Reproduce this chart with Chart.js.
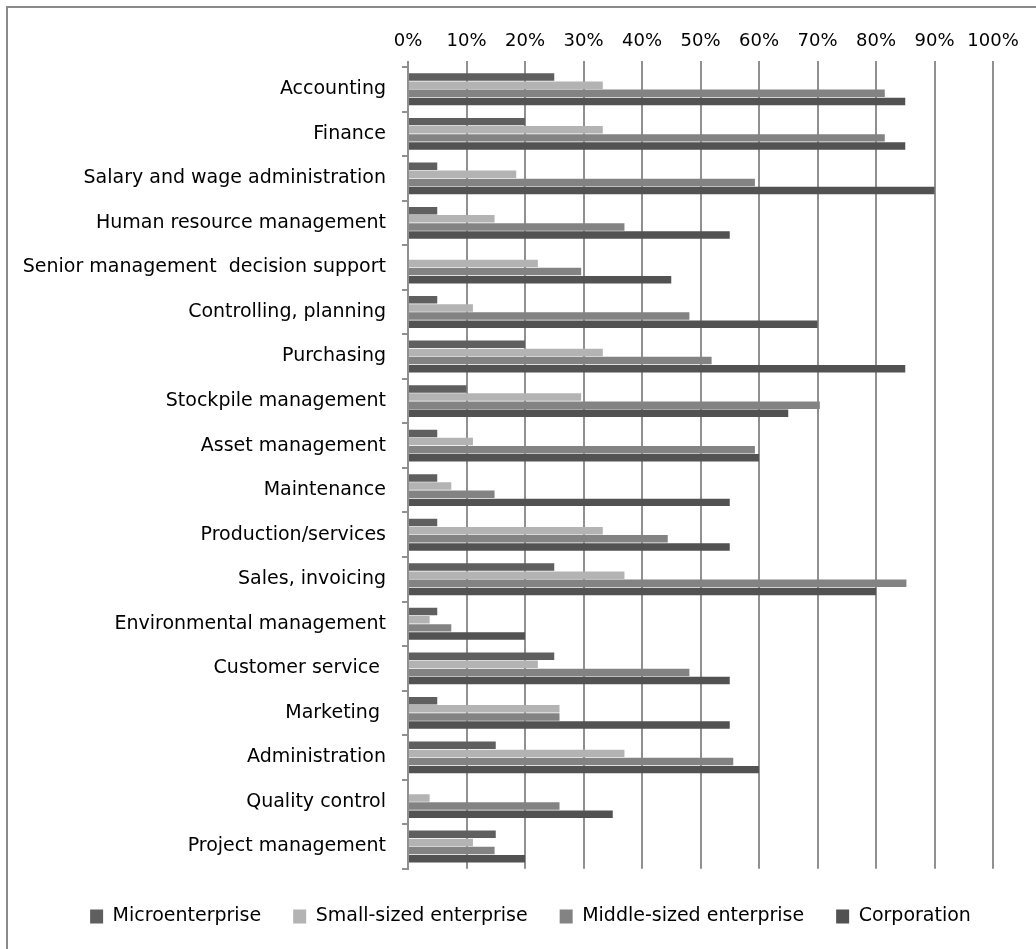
<!DOCTYPE html>
<html>
<head>
<meta charset="utf-8">
<script src="https://cdn.jsdelivr.net/npm/chart.js@4/dist/chart.umd.min.js"></script>
<style>
  html, body { margin: 0; padding: 0; background: #ffffff; }
  #wrap { position: relative; width: 1036px; height: 949px; }
</style>
</head>
<body>
<div id="wrap"><canvas id="c" width="1036" height="949"></canvas></div>
<script>
const categories = [
  "Accounting",
  "Finance",
  "Salary and wage administration",
  "Human resource management",
  "Senior management  decision support",
  "Controlling, planning",
  "Purchasing",
  "Stockpile management",
  "Asset management",
  "Maintenance",
  "Production/services",
  "Sales, invoicing",
  "Environmental management",
  "Customer service ",
  "Marketing ",
  "Administration",
  "Quality control",
  "Project management"
];
const seriesNames = ["Microenterprise", "Small-sized enterprise", "Middle-sized enterprise", "Corporation"];
const microenterprise = [25, 20, 5, 5, 0, 5, 20, 10, 5, 5, 5, 25, 5, 25, 5, 15, 0, 15];
const smallSized      = [33.3, 33.3, 18.5, 14.8, 22.2, 11.1, 33.3, 29.6, 11.1, 7.4, 33.3, 37.0, 3.7, 22.2, 25.9, 37.0, 3.7, 11.1];
const middleSized     = [81.5, 81.5, 59.3, 37.0, 29.6, 48.1, 51.9, 70.4, 59.3, 14.8, 44.4, 85.2, 7.4, 48.1, 25.9, 55.6, 25.9, 14.8];
const corporation     = [85, 85, 90, 55, 45, 70, 85, 65, 60, 55, 55, 80, 20, 55, 55, 60, 35, 20];
const xTicks = [0, 10, 20, 30, 40, 50, 60, 70, 80, 90, 100];
const seriesColors = ["#5f5f5f", "#b3b3b3", "#838383", "#525252"];

const FONT = "'DejaVu Sans', 'Liberation Sans', sans-serif";
const GRID = "#909090";

const frame = {
  id: 'frame',
  afterLayout(chart) {
    if (chart.legend) {
      chart.legend.left += 34;
      chart.legend.right += 34;
    }
  },
  beforeDraw(chart) {
    const ctx = chart.ctx;
    ctx.save();
    ctx.strokeStyle = "#8a8a8a";
    ctx.lineWidth = 2;
    ctx.beginPath();
    ctx.moveTo(7, 949);
    ctx.lineTo(7, 7);
    ctx.lineTo(1036, 7);
    ctx.stroke();
    ctx.restore();
  }
};

const allSeries = [microenterprise, smallSized, middleSized, corporation];

new Chart(document.getElementById('c'), {
  type: 'bar',
  data: {
    labels: categories,
    datasets: seriesNames.map((name, i) => ({
      label: name,
      data: allSeries[i],
      backgroundColor: seriesColors[i],
      borderWidth: 0,
      categoryPercentage: 0.73,
      barPercentage: 0.92
    }))
  },
  options: {
    indexAxis: 'y',
    responsive: false,
    animation: false,
    devicePixelRatio: 1,
    layout: { padding: { left: 0, top: 0, right: 43, bottom: 13 } },
    scales: {
      x: {
        position: 'top',
        min: 0,
        max: 100,
        afterBuildTicks(scale) { scale.ticks = xTicks.map(v => ({ value: v })); },
        afterFit(scale) { scale.height = 67; },
        ticks: {
          callback: v => v + '%',
          color: '#000000',
          font: { family: FONT, size: 18 },
          padding: 9,
          maxRotation: 0
        },
        grid: { color: GRID, lineWidth: 2, tickLength: 6, drawTicks: true },
        border: { display: false }
      },
      y: {
        afterFit(scale) { scale.width = 408; },
        ticks: {
          color: '#000000',
          font: { family: FONT, size: 19 },
          padding: 16,
          autoSkip: false
        },
        grid: { color: GRID, lineWidth: 2, tickLength: 6, drawOnChartArea: false, drawTicks: true, offset: true },
        border: { display: true, color: GRID, width: 2 }
      }
    },
    plugins: {
      tooltip: { enabled: false },
      legend: {
        position: 'bottom',
        title: { display: true, text: '', font: { size: 1 }, padding: { top: 5, bottom: 0 } },
        labels: {
          color: '#000000',
          font: { family: FONT, size: 19 },
          boxWidth: 13,
          boxHeight: 14,
          padding: 32
        }
      }
    }
  },
  plugins: [frame]
});
</script>
</body>
</html>
